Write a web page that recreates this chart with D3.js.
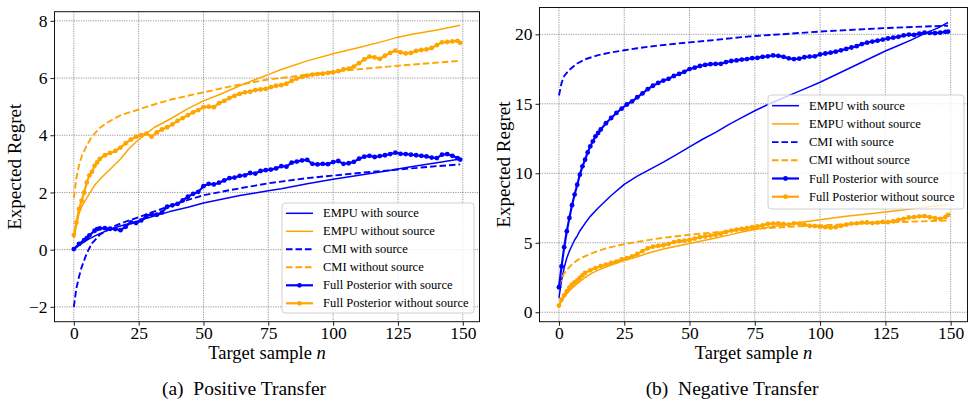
<!DOCTYPE html>
<html>
<head>
<meta charset="utf-8">
<script src="https://cdn.jsdelivr.net/npm/d3@7"></script>
<style>
body { margin: 0; background: #fff; }
svg { font-family: "Liberation Serif", "Times New Roman", serif; }
</style>
</head>
<body>
<div id="chart"></div>
<script>
var w = 970, h = 403;

var xTicks = [0, 25, 50, 75, 100, 125, 150];
var posYTicks = [-2, 0, 2, 4, 6, 8];
var negYTicks = [0, 5, 10, 15, 20];
var legendNames = ["EMPU with source", "EMPU without source", "CMI with source",
	"CMI without source", "Full Posterior with source", "Full Posterior without source"];
var captions = ["(a)  Positive Transfer", "(b)  Negative Transfer"];

// (a) positive transfer, [n, regret]
var posEmpuWith = [[0,0.0],[2,0.15],[5,0.33],[8,0.47],[10,0.56],[15,0.75],[20,0.88],[25,1.01],[30,1.15],[37,1.33],[44,1.48],[50,1.63],[57,1.76],[64,1.89],[70,1.98],[75,2.06],[80,2.13],[90,2.3],[100,2.46],[110,2.6],[120,2.74],[125,2.82],[130,2.9],[140,3.04],[149,3.17]];
var posEmpuWithout = [[0,0.4],[1,0.84],[2,1.25],[3,1.5],[5,1.8],[8,2.25],[11,2.55],[15,2.9],[18,3.17],[21,3.5],[25,3.85],[31,4.27],[37,4.56],[44,4.93],[50,5.2],[57,5.45],[64,5.73],[70,5.95],[75,6.12],[80,6.3],[90,6.6],[100,6.85],[110,7.07],[120,7.3],[125,7.43],[130,7.52],[140,7.68],[149,7.85]];
var posCmiWith = [[0,-2.0],[1,-1.35],[2,-0.95],[3,-0.62],[5,-0.12],[7,0.22],[10,0.52],[15,0.8],[20,0.98],[25,1.13],[30,1.3],[37,1.53],[44,1.74],[50,1.9],[60,2.08],[70,2.24],[75,2.32],[80,2.38],[90,2.5],[100,2.59],[110,2.68],[125,2.8],[140,2.92],[149,2.98]];
var posCmiWithout = [[0,1.8],[1,2.5],[2,2.95],[3,3.25],[5,3.65],[7,3.95],[10,4.25],[13,4.45],[18,4.7],[25,4.9],[30,5.05],[37,5.24],[44,5.38],[50,5.5],[60,5.7],[70,5.87],[75,5.95],[80,6.0],[90,6.12],[100,6.22],[110,6.31],[125,6.43],[140,6.54],[149,6.6]];
var posFullWith = [[0,0.02],[2,0.2],[4,0.33],[5,0.4],[6,0.5],[8,0.66],[9,0.72],[10,0.74],[12,0.75],[14,0.73],[16,0.72],[18,0.68],[20,0.8],[22,0.95],[24,0.93],[26,1.02],[28,1.18],[30,1.24],[32,1.22],[34,1.3],[36,1.5],[38,1.55],[40,1.6],[42,1.72],[44,1.85],[46,1.95],[48,2.02],[50,2.22],[52,2.3],[54,2.28],[56,2.34],[58,2.42],[60,2.5],[62,2.52],[64,2.58],[66,2.6],[68,2.68],[70,2.66],[72,2.75],[74,2.78],[76,2.8],[78,2.84],[80,2.92],[82,2.9],[84,3.04],[86,3.08],[88,3.12],[90,3.14],[92,3.0],[94,2.98],[96,3.0],[98,2.99],[100,3.06],[102,3.1],[104,3.0],[106,3.02],[108,3.07],[110,3.18],[112,3.25],[114,3.28],[116,3.24],[118,3.27],[120,3.3],[122,3.34],[124,3.39],[126,3.35],[128,3.34],[130,3.32],[132,3.3],[134,3.28],[136,3.26],[138,3.22],[140,3.2],[142,3.32],[144,3.34],[146,3.28],[148,3.2],[149,3.15]];
var posFullWithout = [[0,0.51],[1,0.95],[2,1.42],[3,1.71],[4,2.0],[5,2.35],[6,2.6],[7,2.72],[8,2.93],[9,3.05],[10,3.17],[12,3.3],[14,3.38],[16,3.45],[18,3.57],[20,3.72],[22,3.85],[24,3.95],[26,4.0],[28,4.06],[30,3.95],[32,4.1],[34,4.2],[36,4.28],[38,4.38],[40,4.5],[42,4.6],[44,4.7],[46,4.8],[48,4.88],[50,4.98],[52,5.0],[54,4.98],[56,5.12],[58,5.2],[60,5.3],[62,5.38],[64,5.45],[66,5.5],[68,5.52],[70,5.58],[72,5.6],[74,5.62],[76,5.68],[78,5.73],[80,5.75],[82,5.8],[84,5.9],[86,5.98],[88,6.04],[90,6.08],[92,6.12],[94,6.14],[96,6.15],[98,6.18],[100,6.2],[102,6.24],[104,6.3],[106,6.33],[108,6.4],[110,6.52],[112,6.65],[114,6.75],[116,6.72],[118,6.67],[120,6.78],[122,6.88],[124,6.96],[126,6.9],[128,6.86],[130,6.88],[132,6.95],[134,6.98],[136,7.0],[138,7.05],[140,7.15],[142,7.25],[144,7.26],[146,7.28],[148,7.3],[149,7.23]];

// (b) negative transfer, [n, regret]
var negEmpuWith = [[0,1.03],[1,2.3],[2,3.2],[3,3.9],[4,4.4],[5,4.8],[6,5.2],[7,5.5],[8,5.85],[10,6.4],[12,6.9],[15,7.5],[20,8.4],[25,9.2],[30,9.8],[35,10.3],[40,10.8],[45,11.35],[50,11.9],[55,12.45],[60,12.95],[65,13.5],[70,14.0],[75,14.5],[80,14.95],[85,15.35],[90,15.75],[95,16.15],[100,16.55],[105,17.0],[110,17.45],[115,17.9],[120,18.35],[125,18.8],[130,19.2],[135,19.6],[140,20.05],[145,20.45],[149,20.85]];
var negEmpuWithout = [[0,0.5],[2,1.1],[4,1.55],[6,1.9],[8,2.2],[10,2.5],[13,2.85],[16,3.1],[20,3.4],[25,3.72],[30,4.0],[35,4.3],[40,4.55],[45,4.75],[50,4.95],[55,5.15],[60,5.35],[65,5.55],[70,5.78],[75,5.95],[80,6.1],[90,6.4],[100,6.65],[110,6.9],[120,7.1],[130,7.33],[140,7.55],[149,7.75]];
var negCmiWith = [[0,15.6],[1,16.5],[2,17.0],[4,17.45],[7,17.9],[10,18.2],[15,18.5],[20,18.7],[25,18.85],[30,19.0],[37,19.17],[45,19.33],[50,19.42],[60,19.6],[70,19.8],[75,19.88],[85,20.0],[100,20.2],[110,20.3],[125,20.45],[140,20.56],[149,20.62]];
var negCmiWithout = [[0,1.9],[1,2.4],[2,2.8],[3,3.05],[5,3.45],[7,3.75],[9,3.95],[13,4.27],[18,4.6],[25,4.9],[31,5.1],[37,5.28],[44,5.45],[50,5.58],[63,5.8],[75,6.0],[90,6.17],[100,6.25],[115,6.38],[125,6.45],[135,6.52],[149,6.6]];
var negFullWith = [[0,1.8],[1,3.3],[2,4.68],[3,5.83],[4,6.79],[5,7.7],[6,8.47],[7,9.18],[8,9.9],[9,10.5],[10,10.98],[11,11.5],[12,11.94],[13,12.3],[14,12.66],[15,12.9],[16,13.15],[18,13.6],[20,13.98],[22,14.34],[24,14.65],[26,14.95],[28,15.18],[30,15.47],[32,15.75],[34,16.05],[36,16.3],[38,16.5],[40,16.67],[42,16.8],[44,17.0],[46,17.15],[48,17.3],[50,17.5],[52,17.6],[54,17.72],[56,17.8],[58,17.85],[60,17.87],[62,17.88],[64,18.0],[66,18.08],[68,18.12],[70,18.18],[72,18.22],[74,18.28],[76,18.3],[78,18.38],[80,18.42],[82,18.48],[84,18.45],[86,18.38],[88,18.27],[90,18.22],[92,18.25],[94,18.35],[96,18.4],[98,18.42],[100,18.55],[102,18.62],[104,18.68],[106,18.75],[108,18.85],[110,18.95],[112,19.05],[114,19.15],[116,19.3],[118,19.4],[120,19.48],[122,19.54],[124,19.62],[126,19.7],[128,19.76],[130,19.82],[132,19.92],[134,19.98],[136,19.96],[138,20.05],[140,20.12],[142,20.1],[144,20.08],[146,20.12],[148,20.18],[149,20.2]];
var negFullWithout = [[0,0.48],[1,0.91],[2,1.22],[3,1.51],[4,1.78],[5,1.99],[6,2.15],[7,2.3],[8,2.47],[9,2.65],[10,2.83],[12,3.02],[14,3.18],[16,3.31],[18,3.42],[20,3.55],[22,3.65],[24,3.8],[26,3.9],[28,4.02],[30,4.2],[32,4.4],[34,4.6],[36,4.72],[38,4.78],[40,4.82],[42,4.92],[44,5.05],[46,5.12],[48,5.15],[50,5.2],[52,5.3],[54,5.4],[56,5.45],[58,5.52],[60,5.58],[62,5.65],[64,5.78],[66,5.88],[68,5.95],[70,6.0],[72,6.05],[74,6.12],[76,6.18],[78,6.25],[80,6.35],[82,6.38],[84,6.4],[86,6.35],[88,6.3],[90,6.4],[92,6.38],[94,6.3],[96,6.22],[98,6.2],[100,6.16],[102,6.12],[104,6.1],[106,6.12],[108,6.22],[110,6.3],[112,6.38],[114,6.4],[116,6.45],[118,6.46],[120,6.42],[122,6.45],[124,6.5],[126,6.48],[128,6.55],[130,6.65],[132,6.72],[134,6.82],[136,6.85],[138,6.9],[140,6.92],[142,6.85],[144,6.78],[146,6.72],[148,6.85],[149,7.0]];

var blue = "#0000ff", orange = "#ffa500";
var styles = [
	{ color: blue, dash: null, width: 1.5, marker: false },
	{ color: orange, dash: null, width: 1.5, marker: false },
	{ color: blue, dash: "6.5,3", width: 1.9, marker: false },
	{ color: orange, dash: "6.5,3", width: 1.9, marker: false },
	{ color: blue, dash: null, width: 2.2, marker: true },
	{ color: orange, dash: null, width: 2.2, marker: true }
];

var svg = d3.select("#chart").append("svg")
	.attr("width", w)
	.attr("height", h);

function drawPanel(p) {
	var x = d3.scaleLinear().domain([-7.45, 156.45]).range([p.x0, p.x1]);
	var y = d3.scaleLinear().domain(p.yDomain).range([p.y1, p.y0]);
	var g = svg.append("g");

	g.append("clipPath").attr("id", p.id + "clip")
		.append("rect")
		.attr("x", p.x0).attr("y", p.y0)
		.attr("width", p.x1 - p.x0).attr("height", p.y1 - p.y0);

	// dotted grid
	g.selectAll(".vgrid").data(xTicks).enter().append("line")
		.attr("x1", d => x(d)).attr("x2", d => x(d))
		.attr("y1", p.y0).attr("y2", p.y1)
		.attr("stroke", "#8a8a8a").attr("stroke-width", 0.9)
		.attr("stroke-dasharray", "1.2,1.2");
	g.selectAll(".hgrid").data(p.yTicks).enter().append("line")
		.attr("x1", p.x0).attr("x2", p.x1)
		.attr("y1", d => y(d)).attr("y2", d => y(d))
		.attr("stroke", "#8a8a8a").attr("stroke-width", 0.9)
		.attr("stroke-dasharray", "1.2,1.2");

	var xAxis = g.append("g")
		.attr("transform", "translate(0," + p.y1 + ")")
		.call(d3.axisBottom(x).tickValues(xTicks).tickSize(4).tickPadding(1));
	var yAxis = g.append("g")
		.attr("transform", "translate(" + p.x0 + ",0)")
		.call(d3.axisLeft(y).tickValues(p.yTicks).tickSize(4).tickPadding(3));
	[xAxis, yAxis].forEach(function (a) {
		a.select(".domain").remove();
		a.selectAll("text").attr("font-size", 17.5).attr("fill", "#000")
			.attr("font-family", "Liberation Serif");
		a.selectAll("line").attr("stroke", "#000").attr("stroke-width", 0.9);
	});

	var line = d3.line()
		.x(d => x(d[0]))
		.y(d => y(d[1]));

	var plot = g.append("g").attr("clip-path", "url(#" + p.id + "clip)");
	p.series.forEach(function (s, i) {
		var st = styles[i];
		plot.append("path")
			.datum(s)
			.attr("d", line)
			.attr("fill", "none")
			.attr("stroke", st.color)
			.attr("stroke-width", st.width)
			.attr("stroke-dasharray", st.dash)
			.attr("stroke-linejoin", "round");
		if (st.marker) {
			plot.selectAll(".m" + i).data(s).enter().append("circle")
				.attr("cx", d => x(d[0]))
				.attr("cy", d => y(d[1]))
				.attr("r", 2.4)
				.attr("fill", st.color);
		}
	});

	g.append("rect")
		.attr("x", p.x0).attr("y", p.y0)
		.attr("width", p.x1 - p.x0).attr("height", p.y1 - p.y0)
		.attr("fill", "none").attr("stroke", "#111").attr("stroke-width", 1);

	g.append("text")
		.attr("x", (p.x0 + p.x1) / 2).attr("y", 359)
		.attr("text-anchor", "middle").attr("font-size", 18.5)
		.html("Target sample <tspan font-style='italic'>n</tspan>");

	g.append("text")
		.attr("transform", "translate(" + p.labelX + "," + ((p.y0 + p.y1) / 2) + ") rotate(-90)")
		.attr("text-anchor", "middle").attr("font-size", 19)
		.text("Expected Regret");

	g.append("text")
		.attr("x", p.capX).attr("y", 395)
		.attr("text-anchor", "middle").attr("font-size", 19.5)
		.attr("xml:space", "preserve")
		.style("white-space", "pre")
		.text(p.caption);

	// legend
	var L = p.legend;
	var lg = g.append("g");
	lg.append("rect")
		.attr("x", L.x).attr("y", L.y)
		.attr("width", L.w).attr("height", L.h)
		.attr("rx", 3)
		.attr("fill", "#fff").attr("fill-opacity", 0.8)
		.attr("stroke", "#d0d0d0").attr("stroke-width", 1);
	legendNames.forEach(function (name, i) {
		var st = styles[i];
		var cy = L.row0 + i * L.step;
		lg.append("line")
			.attr("x1", L.x + 4).attr("x2", L.x + 31)
			.attr("y1", cy).attr("y2", cy)
			.attr("stroke", st.color)
			.attr("stroke-width", st.width)
			.attr("stroke-dasharray", st.dash);
		if (st.marker) {
			lg.append("circle").attr("cx", L.x + 17.5).attr("cy", cy)
				.attr("r", 2.4).attr("fill", st.color);
		}
		lg.append("text")
			.attr("x", L.x + 41).attr("y", cy).attr("dy", "0.33em")
			.attr("font-size", 12.5)
			.text(name);
	});
}

drawPanel({
	id: "pos", x0: 54.5, x1: 479.5, y0: 11.7, y1: 321.7,
	yDomain: [-2.52, 8.32], yTicks: posYTicks,
	series: [posEmpuWith, posEmpuWithout, posCmiWith, posCmiWithout, posFullWith, posFullWithout],
	labelX: 21, capX: 244, caption: captions[0],
	legend: { x: 282, y: 203, w: 192, h: 110, row0: 213.3, step: 18 }
});

drawPanel({
	id: "neg", x0: 539.5, x1: 967.5, y0: 7.5, y1: 321.7,
	yDomain: [-0.68, 21.93], yTicks: negYTicks,
	series: [negEmpuWith, negEmpuWithout, negCmiWith, negCmiWithout, negFullWith, negFullWithout],
	labelX: 510, capX: 732, caption: captions[1],
	legend: { x: 768, y: 95, w: 196, h: 114, row0: 105.7, step: 18.2 }
});
</script>
</body>
</html>
